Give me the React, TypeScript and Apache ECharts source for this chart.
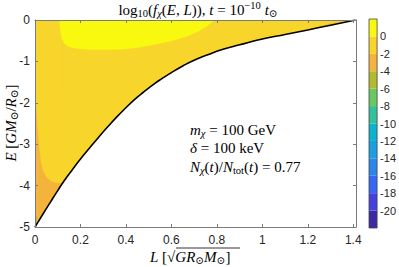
import React, { useEffect, useRef } from "react";
import * as echarts from "echarts";

// Boundary curve E_c(L) (black line)
const curveL = [0, 0.02, 0.045, 0.07, 0.1, 0.13, 0.165, 0.2, 0.24, 0.28, 0.32, 0.36, 0.4, 0.44, 0.48, 0.52, 0.56, 0.6, 0.65, 0.7, 0.76, 0.82, 0.9, 1.0, 1.1, 1.2, 1.3, 1.41];
const curveE = [-5, -4.82, -4.6, -4.38, -4.12, -3.87, -3.61, -3.36, -3.09, -2.83, -2.58, -2.34, -2.12, -1.91, -1.73, -1.56, -1.41, -1.27, -1.11, -0.97, -0.84, -0.72, -0.6, -0.46, -0.35, -0.24, -0.125, 0];

// level [0,2] region (bright yellow), lower edge
const yellowL = [0.108, 0.11, 0.114, 0.122, 0.135, 0.155, 0.18, 0.22, 0.3, 0.38, 0.45, 0.51, 0.59, 0.66, 0.72, 0.76, 0.79];
const yellowE = [0, -0.2, -0.36, -0.5, -0.6, -0.66, -0.69, -0.71, -0.72, -0.71, -0.67, -0.61, -0.52, -0.41, -0.27, -0.14, 0];

// upper edge of the level [-4,-2] region on the left (orange), from the L=0 axis to the curve
const orangeL = [0, 0.004, 0.008, 0.013, 0.02, 0.027, 0.037, 0.051, 0.069, 0.088, 0.105, 0.123];
const orangeE = [-1.6, -2.0, -2.33, -2.73, -3.14, -3.46, -3.66, -3.8, -3.89, -3.93, -3.94, -3.93];

// upper edge of the level [-6,-4] region at the bottom-left corner
const greenL = [0, 0.005, 0.008, 0.009];
const greenE = [-4.62, -4.7, -4.8, -4.92];

// upper edge of the level [-4,-2] sliver at top-right along the curve
const sliverL = [1.2, 1.26, 1.31, 1.36, 1.41];
const sliverE = [-0.24, -0.14, -0.075, -0.03, 0];

// colour bar
const cbarLevels = [-22, -20, -18, -16, -14, -12, -10, -8, -6, -4, -2, 0, 2];
const cbarColors = ["#3a2ca0", "#4540df", "#3567f3", "#2a86ee", "#1c9ee1", "#0bb4cc", "#33c09a", "#69c862", "#b3ba30", "#f4b43c", "#f7d52b", "#f9f90f"];
const xTicks = [0, 0.2, 0.4, 0.6, 0.8, 1, 1.2, 1.4];

const colorOf = (v: number) => {
  for (let i = 0; i < cbarColors.length; i++) {
    if (v >= cbarLevels[i] && v < cbarLevels[i + 1]) return cbarColors[i];
  }
  return cbarColors[cbarColors.length - 1];
};

const zip = (a: number[], b: number[]) => a.map((v, i) => [v, b[i]]);

export default function App() {
  const ref = useRef<HTMLDivElement>(null);
  useEffect(() => {
    if (!ref.current) return;
    const chart = echarts.init(ref.current, null, { renderer: "svg" });

    const curve = zip(curveL, curveE);
    const greenEdge = zip(greenL, greenE);
    const orangeEdge = zip(orangeL, orangeE);
    const sliverEdge = zip(sliverL, sliverE);
    const P0 = greenEdge[greenEdge.length - 1];
    const P1 = orangeEdge[orangeEdge.length - 1];

    let zc = 1;
    // filled band: area between a line and the top of the plot (E = 0), painted in order
    const band = (data: number[][], level: number, smooth: number | boolean = 0.5) => ({
      type: "line", xAxisIndex: 0, yAxisIndex: 0, data, smooth, symbol: "none",
      z: zc++, silent: true,
      lineStyle: { width: 0 },
      areaStyle: { color: colorOf(level), opacity: 1, origin: "end" },
    });

    const serif = "'Liberation Serif', 'DejaVu Serif', serif";
    const mk = (fs: number) => ({
      n: { fontSize: fs, fontFamily: serif, color: "#000" },
      i: { fontSize: fs, fontFamily: serif, fontStyle: "italic", color: "#000" },
      sub: { fontSize: fs * 0.7, fontFamily: serif, color: "#000", padding: [fs * 0.5, 0, 0, 0] },
      isub: { fontSize: fs * 0.7, fontFamily: serif, fontStyle: "italic", color: "#000", padding: [fs * 0.5, 0, 0, 0] },
      sup: { fontSize: fs * 0.7, fontFamily: serif, color: "#000", padding: [0, 0, fs * 0.55, 0] },
    });
    const rich = mk(15);
    const axisGray = "#7a7a7a";
    const labelStyle = { fontFamily: "'Liberation Sans', Arial, sans-serif", fontSize: 12, color: "#262626" };
    const boxAxis = {
      axisLine: { show: true, onZero: false, lineStyle: { color: axisGray, width: 1 } },
      splitLine: { show: false },
      axisTick: { show: true, inside: true, length: 3, lineStyle: { color: axisGray } },
      z: 20,
    };

    const series: any[] = [
      band([curve[0], P0], -5, false),
      band(greenEdge, -3, false),
      band([P0, ...curve.filter((p) => p[0] > P0[0] && p[0] < P1[0]), P1], -3, false),
      band(orangeEdge, -1, false),
      band([P1, ...curve.filter((p) => p[0] > P1[0])], -1, 0.5),
      band(curve.filter((p) => p[0] >= sliverL[0]), -3, false),
      band(sliverEdge, -1, false),
      band(zip(yellowL, yellowE), 1, 0.3),
      {
        type: "line", xAxisIndex: 0, yAxisIndex: 0, data: curve, smooth: 0.5, symbol: "none",
        lineStyle: { width: 1.6, color: "#000" }, silent: true, z: 15,
      },
      {
        type: "custom", xAxisIndex: 2, yAxisIndex: 2, data: cbarColors.map((_, i) => [0.5, cbarLevels[i], i]), silent: true,
        renderItem: (params: any, api: any) => {
          const i = params.dataIndex;
          const p1 = api.coord([0, cbarLevels[i + 1]]);
          const p2 = api.coord([1, cbarLevels[i]]);
          const children: any[] = [
            { type: "rect", shape: { x: p1[0], y: p1[1], width: p2[0] - p1[0], height: p2[1] - p1[1] }, style: { fill: cbarColors[i] } },
          ];
          if (i === cbarColors.length - 1) {
            const a = api.coord([0, cbarLevels[cbarLevels.length - 1]]);
            const b = api.coord([1, cbarLevels[0]]);
            children.push({
              type: "rect", shape: { x: a[0], y: a[1], width: b[0] - a[0], height: b[1] - a[1] },
              style: { fill: "none", stroke: "#444", lineWidth: 0.8 }, z2: 10,
            });
          }
          return { type: "group", children };
        },
      },
    ];

    chart.setOption({
      animation: false,
      grid: [
        { left: 35, top: 20, width: 321, height: 207, show: false },
        { left: 369, top: 19, width: 11, height: 209, show: false },
      ],
      xAxis: [
        {
          type: "value", gridIndex: 0, min: 0, max: 1.412, interval: 0.2, position: "bottom", ...boxAxis,
          axisLabel: {
            ...labelStyle, margin: 7,
            formatter: (v: number) => (xTicks.some((t) => Math.abs(t - v) < 1e-6) ? String(v) : ""),
          },
        },
        {
          type: "value", gridIndex: 0, min: 0, max: 1.412, interval: 0.2, position: "top", ...boxAxis,
          axisLabel: { show: false },
        },
        { type: "value", gridIndex: 1, min: 0, max: 1, show: false },
      ],
      yAxis: [
        {
          type: "value", gridIndex: 0, min: -5, max: 0, interval: 1, position: "left", ...boxAxis,
          axisLabel: { ...labelStyle, margin: 5 },
        },
        {
          type: "value", gridIndex: 0, min: -5, max: 0, interval: 1, position: "right", ...boxAxis,
          axisLabel: { show: false },
        },
        {
          type: "value", gridIndex: 1, min: -22, max: 2, interval: 2, position: "right",
          axisLine: { show: false }, splitLine: { show: false }, axisTick: { show: false },
          axisLabel: {
            ...labelStyle, fontSize: 11, margin: 3,
            formatter: (v: number) => (v <= 0 && v >= -20 ? String(v) : ""),
          },
        },
      ],
      series,
      graphic: [
        {
          type: "text", x: 198, y: 10, z: 30,
          style: {
            text: "{n|log}{sub|10}{n|(}{i|f}{isub|χ}{n|(}{i|E}{n|, }{i|L}{n|)), }{i|t}{n| = 10}{sup|−10}{n| }{i|t}{sub|⊙}",
            rich, align: "center", verticalAlign: "middle",
          },
        },
        {
          type: "text", x: 190, y: 130, z: 30,
          style: { text: "{i|m}{isub|χ}{n| = 100 GeV}", rich, align: "left", verticalAlign: "middle" },
        },
        {
          type: "text", x: 190, y: 148, z: 30,
          style: { text: "{i|δ}{n| = 100 keV}", rich, align: "left", verticalAlign: "middle" },
        },
        {
          type: "text", x: 190, y: 167, z: 30,
          style: { text: "{i|N}{isub|χ}{n|(}{i|t}{n|)/}{i|N}{sub|tot}{n|(}{i|t}{n|) = 0.77}", rich, align: "left", verticalAlign: "middle" },
        },
        {
          type: "text", x: 11, y: 123, rotation: Math.PI / 2, z: 30,
          style: { text: "{i|E}{n| [}{i|GM}{sub|⊙}{n|/}{i|R}{sub|⊙}{n|]}", rich, align: "center", verticalAlign: "middle" },
        },
        {
          type: "text", x: 150, y: 257, z: 30,
          style: { text: "{i|L}{n| [√}{i|GR}{sub|⊙}{i|M}{sub|⊙}{n|]}", rich, align: "left", verticalAlign: "middle" },
        },
        {
          type: "line", z: 30, shape: { x1: 176, y1: 248, x2: 240, y2: 248 }, style: { stroke: "#000", lineWidth: 0.8 },
        },
      ],
    });

    return () => chart.dispose();
  }, []);
  return <div ref={ref} style={{ width: 399, height: 267, position: "absolute", left: 0, top: 0 }} />;
}
